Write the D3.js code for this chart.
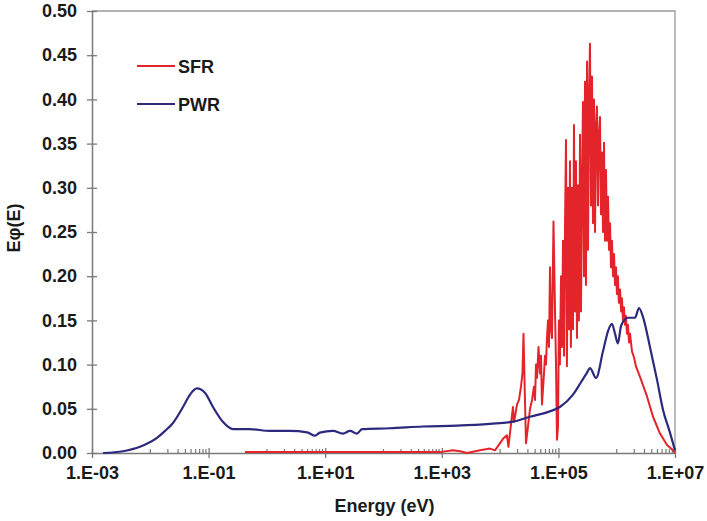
<!DOCTYPE html>
<html>
<head>
<meta charset="utf-8">
<script src="https://cdn.jsdelivr.net/npm/d3@7"></script>
<style>
  body { margin: 0; background: #fff; }
  text { font-family: "Liberation Sans", Arial, sans-serif; font-weight: bold; fill: #1a1a1a; }
</style>
</head>
<body>
<svg id="chart" width="707" height="521"></svg>
<script>
var margin = { top: 11, right: 32, bottom: 68, left: 92 },
    width = 707 - margin.left - margin.right,
    height = 521 - margin.top - margin.bottom;

// PWR spectrum, energy (eV) and E*phi(E)
var pwrEnergy = [1.55e-3, 3.4e-3, 6.65e-3, 1.3e-2, 1.79e-2, 2.45e-2, 3.64e-2, 4.8e-2, 6.3e-2, 8.7e-2,
    0.119, 0.177, 0.262, 0.51, 1.13, 2.49, 4.9, 6.7, 8.1, 13.6, 20.2, 26.6, 35, 42.8, 129, 476, 1820,
    6710, 1.66e4, 3.26e4, 6.37e4, 1.06e5, 1.78e5, 2.44e5, 3.1e5, 3.48e5, 4.42e5, 5.82e5, 7.1e5, 8.3e5,
    9.35e5, 1.05e6, 1.19e6, 1.56e6, 2.06e6, 2.41e6, 2.82e6, 3.72e6, 4.91e6, 6.22e6, 8.2e6, 1e7];
var pwrFlux = [0.000, 0.002, 0.007, 0.017, 0.025, 0.034, 0.052, 0.066, 0.073, 0.068,
    0.052, 0.035, 0.027, 0.027, 0.025, 0.025, 0.0234, 0.0196, 0.023, 0.025, 0.022, 0.025, 0.022, 0.027, 0.028, 0.030, 0.031,
    0.033, 0.0354, 0.041, 0.046, 0.052, 0.066, 0.080, 0.091, 0.096, 0.085, 0.115, 0.138, 0.146,
    0.135, 0.124, 0.144, 0.153, 0.153, 0.164, 0.154, 0.120, 0.083, 0.049, 0.023, 0.003];

// SFR spectrum
var sfrEnergy = [0.42, 931, 1560, 2050, 2700, 4520, 6710, 8170, 1.12e4, 1.31e4, 1.39e4,
    1.66e4, 1.73e4, 1.8e4, 1.95e4, 2.11e4, 2.28e4, 2.42e4, 2.52e4, 2.67e4, 2.78e4, 3.01e4, 3.26e4,
    3.53e4, 3.81e4, 3.97e4, 4.13e4, 4.30e4, 4.56e4, 4.83e4, 5.03e4, 5.23e4, 5.66e4, 5.89e4, 6.12e4,
    6.37e4, 6.64e4, 6.90e4, 7.18e4, 7.47e4, 7.77e4, 8.24e4, 8.75e4, 9.1e4, 9.46e4, 9.84e4,
    1.02e5, 1.06e5, 1.11e5, 1.15e5, 1.20e5, 1.25e5, 1.30e5, 1.35e5, 1.40e5, 1.46e5, 1.52e5, 1.58e5,
    1.64e5, 1.71e5, 1.78e5, 1.85e5, 1.93e5, 2.00e5, 2.08e5, 2.17e5, 2.25e5, 2.35e5, 2.44e5, 2.54e5,
    2.64e5, 2.75e5, 2.86e5, 2.97e5, 3.10e5, 3.22e5, 3.35e5, 3.48e5, 3.62e5, 3.77e5, 3.92e5, 4.08e5,
    4.25e5, 4.42e5, 4.59e5, 4.78e5, 4.97e5, 5.17e5, 5.38e5, 5.60e5, 5.82e5, 6.06e5, 6.30e5, 6.55e5,
    6.82e5, 7.10e5, 7.38e5, 7.68e5, 7.98e5, 8.30e5, 8.65e5, 9.0e5, 9.35e5, 9.73e5, 1.01e6, 1.05e6,
    1.09e6, 1.14e6, 1.19e6, 1.23e6, 1.28e6, 1.33e6, 1.39e6, 1.44e6, 1.50e6, 1.56e6, 1.63e6, 1.69e6,
    1.83e6, 1.98e6, 2.14e6, 2.32e6, 2.51e6, 3.31e6, 4.2e6, 5.53e6, 7.3e6, 9.25e6, 1e7];
var sfrFlux = [0.001, 0.001, 0.003, 0.002, 0.000, 0.003, 0.005, 0.003, 0.016, 0.020, 0.007,
    0.052, 0.035, 0.041, 0.055, 0.060, 0.075, 0.090, 0.135, 0.060, 0.011, 0.030, 0.050,
    0.060, 0.075, 0.060, 0.100, 0.085, 0.120, 0.090, 0.110, 0.055, 0.090, 0.110, 0.100,
    0.130, 0.150, 0.120, 0.210, 0.140, 0.130, 0.262, 0.160, 0.100, 0.015, 0.030,
    0.150, 0.100, 0.200, 0.120, 0.240, 0.110, 0.260, 0.354, 0.098, 0.300, 0.140, 0.330,
    0.120, 0.300, 0.140, 0.371, 0.160, 0.330, 0.130, 0.303, 0.150, 0.360, 0.160, 0.300,
    0.397, 0.200, 0.420, 0.190, 0.443, 0.230, 0.400, 0.463, 0.280, 0.426, 0.260, 0.400,
    0.250, 0.370, 0.392, 0.280, 0.360, 0.380, 0.270, 0.340, 0.250, 0.351, 0.240, 0.320,
    0.240, 0.290, 0.230, 0.260, 0.210, 0.240, 0.200, 0.225, 0.190, 0.210, 0.180, 0.200,
    0.170, 0.185, 0.160, 0.175, 0.150, 0.165, 0.145, 0.155, 0.135, 0.145, 0.125, 0.135,
    0.115, 0.108, 0.098, 0.092, 0.086, 0.064, 0.041, 0.022, 0.009, 0.003, 0.000];

var xLabelTicks = [1e-3, 1e-1, 1e1, 1e3, 1e5, 1e7];
var xLabels = ["1.E-03", "1.E-01", "1.E+01", "1.E+03", "1.E+05", "1.E+07"];
var minorDecades = [1e-2, 1, 1e2, 1e4, 1e6];
var yTicks = [0, 0.05, 0.10, 0.15, 0.20, 0.25, 0.30, 0.35, 0.40, 0.45, 0.50];

var svg = d3.select('svg#chart');
var g = svg.append('g')
    .attr('transform', 'translate(' + margin.left + ',' + margin.top + ')');

var x = d3.scaleLog().domain([1e-3, 1e7]).range([0, width]);
var y = d3.scaleLinear().domain([0, 0.5]).range([height, 0]);

// plot frame (top/right)
g.append('path')
    .attr('d', 'M0,0H' + width + 'V' + height)
    .attr('fill', 'none')
    .attr('stroke', '#9a9a9a')
    .attr('stroke-width', 1.3);

// minor ticks inside, every other decade
var minors = [];
minorDecades.forEach(function (d) {
    for (var m = 1; m <= 9; m++) minors.push(d * m);
});
g.selectAll('line.minor')
    .data(minors)
    .enter().append('line')
    .attr('class', 'minor')
    .attr('x1', d => x(d)).attr('x2', d => x(d))
    .attr('y1', height).attr('y2', height - 4)
    .attr('stroke', '#7a7a7a')
    .attr('stroke-width', 1.2);

// x axis
var xAxis = g.append('g')
    .attr('transform', 'translate(0,' + height + ')')
    .call(d3.axisBottom(x).tickValues(xLabelTicks).tickFormat((d, i) => xLabels[i])
        .tickSizeInner(5).tickSizeOuter(0).tickPadding(8));
xAxis.selectAll('.tick line').attr('y1', -5);
xAxis.select('.domain').attr('stroke', '#7a7a7a').attr('stroke-width', 1.5);
xAxis.selectAll('.tick line').attr('stroke', '#7a7a7a').attr('stroke-width', 1.3);
xAxis.selectAll('text')
    .style('font-size', '18px')
    .style('font-family', '"Liberation Sans", Arial, sans-serif')
    .style('font-weight', 'bold')
    .attr('fill', '#1a1a1a');

// y axis
var yAxis = g.append('g')
    .call(d3.axisLeft(y).tickValues(yTicks).tickFormat(d3.format('.2f'))
        .tickSizeInner(5).tickSizeOuter(0).tickPadding(10));
yAxis.selectAll('.tick line').attr('x1', 5);
yAxis.select('.domain').attr('stroke', '#7a7a7a').attr('stroke-width', 1.5);
yAxis.selectAll('.tick line').attr('stroke', '#7a7a7a').attr('stroke-width', 1.3);
yAxis.selectAll('text')
    .style('font-size', '18px')
    .style('font-family', '"Liberation Sans", Arial, sans-serif')
    .style('font-weight', 'bold')
    .attr('fill', '#1a1a1a');

// curves
var line = d3.line()
    .x(d => x(d[0]))
    .y(d => y(d[1]));

var pwr = d3.zip(pwrEnergy, pwrFlux);
var sfr = d3.zip(sfrEnergy, sfrFlux);

g.append('path')
    .datum(sfr)
    .attr('d', line)
    .attr('fill', 'none')
    .attr('stroke', '#e3242b')
    .attr('stroke-width', 2)
    .attr('stroke-linejoin', 'round');

g.append('path')
    .datum(pwr)
    .attr('d', d3.line().x(d => x(d[0])).y(d => y(d[1])).curve(d3.curveMonotoneX))
    .attr('fill', 'none')
    .attr('stroke', '#2c2a7c')
    .attr('stroke-width', 2.2);

// legend
var legend = [["SFR", "#e3242b", 66], ["PWR", "#2c2a7c", 104]];
legend.forEach(function (l) {
    svg.append('line')
        .attr('x1', 137).attr('x2', 175)
        .attr('y1', l[2]).attr('y2', l[2])
        .attr('stroke', l[1]).attr('stroke-width', 2);
    svg.append('text')
        .attr('x', 178).attr('y', l[2] + 6.5)
        .style('font-size', '18px')
        .text(l[0]);
});

// axis titles
svg.append('text')
    .attr('x', margin.left + width / 2 + 1)
    .attr('y', 512)
    .attr('text-anchor', 'middle')
    .style('font-size', '18px')
    .text('Energy (eV)');

svg.append('text')
    .attr('transform', 'translate(20,228) rotate(-90)')
    .attr('text-anchor', 'middle')
    .style('font-size', '18px')
    .text('Eφ(E)');
</script>
</body>
</html>
